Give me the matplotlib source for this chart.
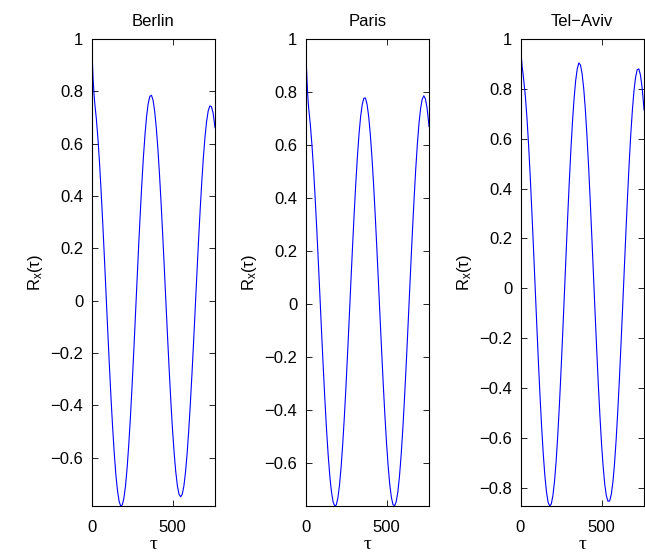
import matplotlib
matplotlib.use("Agg")
import matplotlib.pyplot as plt

plt.rcParams['font.family'] = ['Liberation Sans', 'DejaVu Sans']
plt.rcParams['mathtext.fontset'] = 'custom'
plt.rcParams['mathtext.rm'] = 'Liberation Sans'
plt.rcParams['mathtext.it'] = 'Liberation Sans:italic'

cities = ["Berlin", "Paris", "Tel\u2212Aviv"]

lags = [0, 5, 10, 15, 20, 30, 40, 50, 60, 70, 80, 90, 100, 110, 120, 130, 140, 150,
        160, 170, 180, 190, 200, 210, 220, 230, 240, 250, 260, 270, 280, 290, 300,
        310, 320, 330, 340, 350, 360, 370, 380, 390, 400, 410, 420, 430, 440, 450,
        460, 470, 480, 490, 500, 510, 520, 530, 540, 550, 560, 570, 580, 590, 600,
        610, 620, 630, 640, 650, 660, 670, 680, 690, 700, 710, 720, 730, 740, 750,
        760, 762]

berlin = [1.00, 0.92, 0.845, 0.795, 0.755, 0.695, 0.617, 0.522, 0.411, 0.289, 0.159,
          0.024, -0.111, -0.243, -0.367, -0.480, -0.579, -0.662, -0.724, -0.765, -0.784,
          -0.780, -0.754, -0.706, -0.637, -0.549, -0.446, -0.329, -0.203, -0.071, 0.064,
          0.197, 0.323, 0.441, 0.546, 0.634, 0.705, 0.754, 0.781, 0.785, 0.766, 0.723,
          0.659, 0.577, 0.478, 0.366, 0.244, 0.115, -0.017, -0.147, -0.272, -0.389,
          -0.493, -0.582, -0.654, -0.707, -0.739, -0.749, -0.739, -0.708, -0.655, -0.584,
          -0.495, -0.392, -0.278, -0.156, -0.029, 0.099, 0.224, 0.342, 0.450, 0.545,
          0.624, 0.684, 0.725, 0.744, 0.742, 0.718, 0.672, 0.661]

paris = [1.00, 0.91, 0.835, 0.775, 0.737, 0.676, 0.599, 0.505, 0.396, 0.277, 0.149,
         0.017, -0.116, -0.244, -0.365, -0.475, -0.570, -0.648, -0.707, -0.745, -0.761,
         -0.757, -0.730, -0.681, -0.612, -0.524, -0.422, -0.306, -0.181, -0.050, 0.083,
         0.213, 0.338, 0.453, 0.554, 0.640, 0.707, 0.753, 0.777, 0.777, 0.753, 0.707,
         0.640, 0.554, 0.453, 0.338, 0.213, 0.083, -0.050, -0.180, -0.305, -0.421,
         -0.524, -0.611, -0.680, -0.729, -0.756, -0.760, -0.744, -0.707, -0.648, -0.570,
         -0.475, -0.365, -0.245, -0.116, 0.017, 0.149, 0.278, 0.398, 0.508, 0.602,
         0.680, 0.737, 0.773, 0.786, 0.774, 0.740, 0.684, 0.670]

telaviv = [1.00, 0.93, 0.89, 0.865, 0.835, 0.770, 0.682, 0.574, 0.449, 0.310, 0.163,
           0.011, -0.140, -0.288, -0.426, -0.551, -0.660, -0.749, -0.815, -0.857, -0.873,
           -0.865, -0.831, -0.773, -0.692, -0.588, -0.468, -0.332, -0.187, -0.035, 0.119,
           0.270, 0.413, 0.545, 0.661, 0.756, 0.831, 0.880, 0.904, 0.896, 0.861, 0.802,
           0.718, 0.613, 0.491, 0.354, 0.208, 0.057, -0.095, -0.243, -0.384, -0.511,
           -0.623, -0.715, -0.787, -0.833, -0.854, -0.853, -0.827, -0.778, -0.704, -0.609,
           -0.495, -0.367, -0.226, -0.079, 0.071, 0.220, 0.363, 0.495, 0.613, 0.712,
           0.791, 0.846, 0.877, 0.880, 0.856, 0.807, 0.734, 0.716]

series = [berlin, paris, telaviv]
yticks_list = [[-0.6, -0.4, -0.2, 0, 0.2, 0.4, 0.6, 0.8, 1],
               [-0.6, -0.4, -0.2, 0, 0.2, 0.4, 0.6, 0.8, 1],
               [-0.8, -0.6, -0.4, -0.2, 0, 0.2, 0.4, 0.6, 0.8, 1]]
xticks = [0, 500]

W, H = 645, 560
fig = plt.figure(figsize=(W / 100, H / 100), dpi=100)
lefts = [91.5, 305.5, 520.5]
aw = 123.5
top, bottom = 39, 506

def fmt(v):
    s = "%g" % v
    return s.replace("-", "\u2212")

for i, (city, vals, yt) in enumerate(zip(cities, series, yticks_list)):
    ax = fig.add_axes([lefts[i] / W, 1 - bottom / H, aw / W, (bottom - top) / H])
    ax.plot(lags, vals, color=(0, 0, 1), lw=0.8)
    ax.set_xlim(lags[0], lags[-1])
    ax.set_ylim(min(vals), 1)
    ax.set_xticks(xticks)
    ax.set_xticklabels([fmt(v) for v in xticks])
    ax.set_yticks(yt)
    ax.set_yticklabels([fmt(v) for v in yt])
    ax.tick_params(direction='in', length=4, width=0.6, top=True, right=True,
                   labelsize=12, colors='black')
    ax.tick_params(axis='y', pad=6)
    ax.tick_params(axis='x', pad=10)
    for sp in ax.spines.values():
        sp.set_linewidth(0.8)
    ax.set_title(city, fontsize=12, pad=9)
    ax.set_xlabel("\u03c4", fontsize=14, family=['Liberation Serif', 'DejaVu Serif'], labelpad=1)
    ax.set_ylabel("R$_\\mathregular{x}$(\u03c4)", fontsize=12, labelpad=4)

fig.savefig("out.png", dpi=100)
